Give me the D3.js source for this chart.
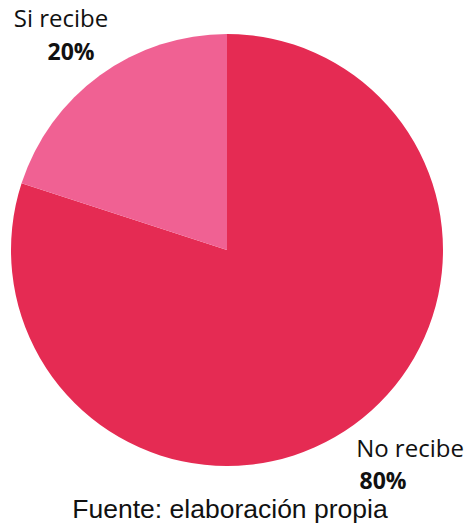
<!DOCTYPE html>
<html lang="es">
  <head>
    <meta charset="utf-8" />
    <title>Recibe</title>
    <style>
      body { margin: 0; background: #fff; }
      svg { display: block; }
      .lbl { font-family: "Open Sans", "Liberation Sans", sans-serif; fill: #111; }
      .src { font-family: "Liberation Sans", Arial, sans-serif; fill: #111; }
    </style>
  </head>
  <body>
    <svg id="chart" width="466" height="525"></svg>
    <script src="https://d3js.org/d3.v7.min.js"></script>
    <script>
      const categories = ["No recibe", "Si recibe"];
      const values = [80, 20];
      const percentLabels = ["80%", "20%"];
      const colors = ["#e52b53", "#f06193"];

      var svg = d3.select("#chart");
      var cx = 227, cy = 250, r = 216;

      var pie = d3.pie().sort(null).value((d) => d.value);
      var arc = d3.arc().innerRadius(0).outerRadius(r);

      var data = categories.map((c, i) => ({ name: c, value: values[i] }));

      var g = svg.append("g").attr("transform", "translate(" + cx + "," + cy + ")");
      g.selectAll("path")
        .data(pie(data))
        .join("path")
        .attr("d", arc)
        .attr("fill", (d, i) => colors[i]);

      // labels placed outside the pie, as in the original
      var labelPos = [
        { name: [410, 457], pct: [383, 489] },
        { name: [61, 27], pct: [71, 60] }
      ];

      categories.forEach(function (c, i) {
        svg.append("text")
          .attr("class", "lbl")
          .attr("x", labelPos[i].name[0])
          .attr("y", labelPos[i].name[1])
          .attr("text-anchor", "middle")
          .style("font-size", "24px")
          .text(c);
        svg.append("text")
          .attr("class", "lbl")
          .attr("x", labelPos[i].pct[0])
          .attr("y", labelPos[i].pct[1])
          .attr("text-anchor", "middle")
          .style("font-size", "23px")
          .style("font-weight", "bold")
          .text(percentLabels[i]);
      });

      svg.append("text")
        .attr("class", "src")
        .attr("x", 230)
        .attr("y", 518)
        .attr("text-anchor", "middle")
        .style("font-size", "26.5px")
        .text("Fuente: elaboración propia");
    </script>
  </body>
</html>
